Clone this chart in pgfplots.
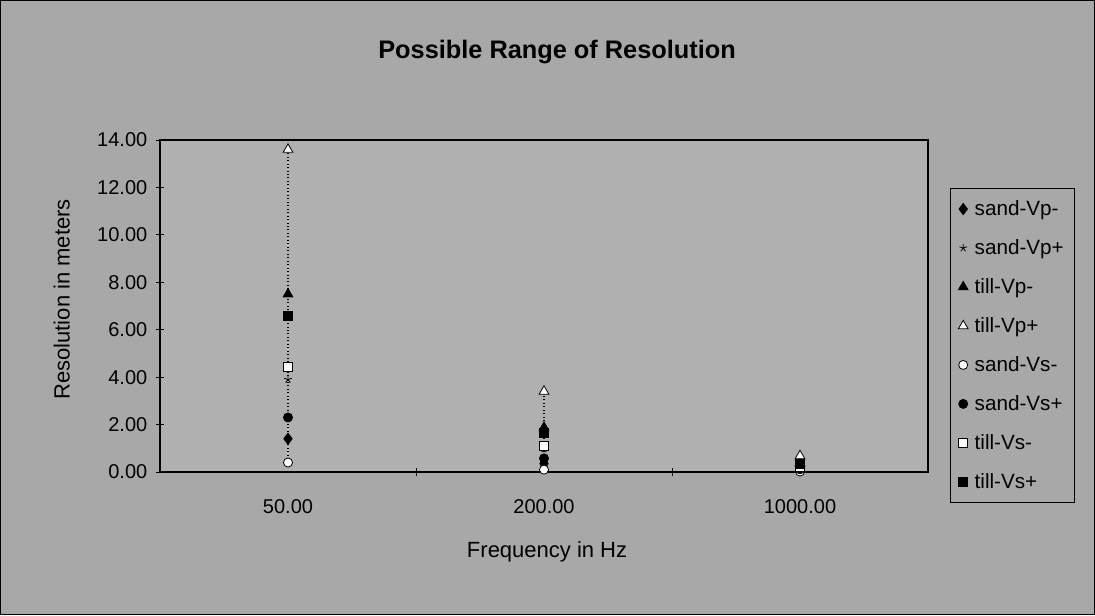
\documentclass[border=0pt]{standalone}
\usepackage{pgfplots}
\pgfplotsset{compat=1.18}
\usepackage{fontspec}
\setmainfont{Liberation Sans}
\definecolor{chartbg}{RGB}{168,168,168}
\definecolor{plotbg}{RGB}{176,176,176}

\begin{document}
\begin{tikzpicture}
% chart area (1095 x 615 px at 0.75pt/px)
\fill[chartbg] (0,0) rectangle (821.25pt,461.25pt);
\draw[black, line width=0.9pt] (0.45pt,0.45pt) rectangle (820.8pt,460.8pt);
\begin{axis}[
    at={(120pt,107.25pt)}, anchor=south west,
    scale only axis,
    width=576pt, height=249pt,
    xmin=-0.5, xmax=2.5,
    ymin=0, ymax=14,
    xtick={0,1,2},
    xticklabels={50.00,200.00,1000.00},
    minor xtick={0.5,1.5},
    major x tick style={draw=none},
    ytick={0,2,...,14},
    xtick pos=bottom, ytick pos=left,
    tick align=center,
    major tick length=6pt, minor tick length=6pt,
    tick style={black, line width=0.6pt},
    axis line style={black, line width=0.9pt},
    axis background/.style={fill=plotbg},
    /pgf/number format/assume math mode=true,
    yticklabel style={/pgf/number format/fixed, /pgf/number format/fixed zerofill,
        /pgf/number format/precision=2, font=\fontsize{15}{18}\selectfont, xshift=-3pt},
    xticklabel style={font=\fontsize{15}{18}\selectfont, yshift=-14pt},
    title={Possible Range of Resolution},
    title style={at={(axis description cs:0.517,1.24)}, anchor=center,
        font=\bfseries\fontsize{19}{22}\selectfont},
    xlabel={Frequency in Hz},
    xlabel style={at={(axis description cs:0.504,-0.241)}, anchor=center,
        font=\fontsize{16.5}{20}\selectfont},
    ylabel={Resolution in meters},
    ylabel style={at={(axis description cs:-0.128,0.52)}, anchor=center,
        font=\fontsize{16.5}{20}\selectfont},
    legend style={at={(axis description cs:1.0286,0.855)}, anchor=north west,
        draw=black, line width=0.6pt, fill=chartbg,
        font=\fontsize{15.5}{18}\selectfont,
        row sep=12.5pt, inner xsep=6pt, inner ysep=7pt,
        /tikz/every odd column/.append style={column sep=3pt}},
    legend cell align=left,
    every axis plot/.append style={mark size=3.4pt, line width=0.6pt},
]
% high-low lines
\addplot[black, dotted, line width=0.9pt, forget plot] coordinates {(0,0.4) (0,13.6)};
\addplot[black, dotted, line width=0.9pt, forget plot] coordinates {(1,0.1) (1,3.4)};
\addplot[black, dotted, line width=0.9pt, forget plot] coordinates {(2,0.02) (2,0.68)};

\addplot[only marks, mark=diamond*, mark options={black, fill=black}, mark size=4.2pt]
    coordinates {(0,1.4) (1,0.35) (2,0.07)};
\addlegendentry{sand-Vp-}
\addplot[only marks, mark=star, mark options={black}, mark size=3pt]
    coordinates {(0,3.9) (1,0.975) (2,0.195)};
\addlegendentry{sand-Vp+}
\addplot[only marks, mark=triangle*, mark options={black, fill=black}, mark size=4.2pt]
    coordinates {(0,7.5) (1,1.875) (2,0.375)};
\addlegendentry{till-Vp-}
\addplot[only marks, mark=triangle*, mark options={black, fill=white}, mark size=4.2pt]
    coordinates {(0,13.6) (1,3.4) (2,0.68)};
\addlegendentry{till-Vp+}
\addplot[only marks, mark=*, mark options={black, fill=white}]
    coordinates {(0,0.4) (1,0.1) (2,0.02)};
\addlegendentry{sand-Vs-}
\addplot[only marks, mark=*, mark options={black, fill=black}]
    coordinates {(0,2.3) (1,0.575) (2,0.115)};
\addlegendentry{sand-Vs+}
\addplot[only marks, mark=square*, mark options={black, fill=white}]
    coordinates {(0,4.45) (1,1.11) (2,0.22)};
\addlegendentry{till-Vs-}
\addplot[only marks, mark=square*, mark options={black, fill=black}]
    coordinates {(0,6.6) (1,1.65) (2,0.33)};
\addlegendentry{till-Vs+}
\end{axis}
\end{tikzpicture}
\end{document}
